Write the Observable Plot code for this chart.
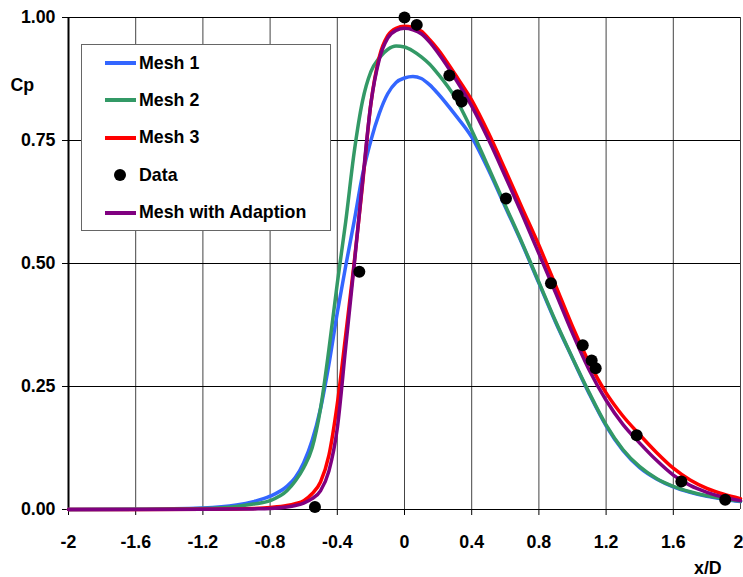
<!DOCTYPE html>
<html>
<head>
<meta charset="utf-8">
<script src="https://cdn.jsdelivr.net/npm/d3@7"></script>
<script src="https://cdn.jsdelivr.net/npm/@observablehq/plot@0.6"></script>
<style>
  body { margin: 0; background: #fff; }
  #wrap { position: relative; width: 743px; height: 577px; font-family: "Liberation Sans", Arial, sans-serif; font-weight: bold; }
  #legend { position: absolute; left: 81px; top: 44px; width: 248px; height: 185px; border: 1px solid #666; background: #fff; }
  .row { position: absolute; left: 0; height: 24px; display: flex; align-items: center; font-size: 17.8px; color: #000; white-space: nowrap; }
  .sw { position: relative; width: 31px; height: 24px; margin-left: 23px; margin-right: 3px; }
</style>
</head>
<body>
<div id="wrap"></div>
<script>
// ---- data ----
const xs = [-2, -1.6, -1.2, -1.0, -0.9, -0.8, -0.7, -0.65, -0.6, -0.55, -0.5, -0.45, -0.4, -0.35, -0.3, -0.25, -0.2, -0.15, -0.1, -0.05, 0, 0.05, 0.1, 0.15, 0.2, 0.3, 0.4, 0.5, 0.6, 0.7, 0.8, 0.9, 1.0, 1.1, 1.2, 1.3, 1.4, 1.5, 1.6, 1.7, 1.8, 1.9, 2.0];

const mesh1 = [0, 0.0005, 0.003, 0.009, 0.016, 0.027, 0.047, 0.065, 0.095, 0.14, 0.205, 0.295, 0.40, 0.495, 0.585, 0.68, 0.75, 0.805, 0.845, 0.868, 0.877, 0.88, 0.876, 0.863, 0.845, 0.803, 0.757, 0.69, 0.615, 0.54, 0.46, 0.38, 0.307, 0.235, 0.17, 0.12, 0.085, 0.062, 0.046, 0.035, 0.027, 0.021, 0.016];

const mesh2 = [0, 0.0005, 0.002, 0.006, 0.011, 0.018, 0.038, 0.058, 0.085, 0.125, 0.205, 0.325, 0.46, 0.585, 0.725, 0.83, 0.89, 0.918, 0.935, 0.942, 0.94, 0.932, 0.92, 0.905, 0.885, 0.838, 0.771, 0.695, 0.618, 0.542, 0.462, 0.382, 0.308, 0.237, 0.172, 0.122, 0.087, 0.063, 0.047, 0.036, 0.028, 0.022, 0.017];

const mesh3 = [0, 0, 0.0005, 0.001, 0.002, 0.004, 0.008, 0.012, 0.018, 0.032, 0.056, 0.11, 0.215, 0.355, 0.5, 0.66, 0.825, 0.92, 0.963, 0.978, 0.982, 0.98, 0.972, 0.955, 0.935, 0.885, 0.832, 0.765, 0.69, 0.613, 0.537, 0.455, 0.372, 0.298, 0.237, 0.19, 0.152, 0.116, 0.084, 0.06, 0.043, 0.031, 0.022];

const meshAdapt = [0, 0, 0.0003, 0.0008, 0.0012, 0.002, 0.005, 0.008, 0.013, 0.022, 0.038, 0.078, 0.165, 0.33, 0.495, 0.665, 0.825, 0.915, 0.958, 0.974, 0.978, 0.975, 0.967, 0.95, 0.928, 0.877, 0.82, 0.752, 0.677, 0.6, 0.52, 0.44, 0.358, 0.283, 0.222, 0.173, 0.135, 0.10, 0.07, 0.049, 0.035, 0.025, 0.018];

const dataX = [-0.533, -0.269, 0, 0.073, 0.267, 0.317, 0.340, 0.604, 0.872, 1.061, 1.114, 1.138, 1.382, 1.648, 1.909];
const dataY = [0.005, 0.483, 1.0, 0.985, 0.882, 0.842, 0.829, 0.632, 0.460, 0.334, 0.303, 0.287, 0.151, 0.057, 0.020];

const xTicks = [-2, -1.6, -1.2, -0.8, -0.4, 0, 0.4, 0.8, 1.2, 1.6, 2];
const yTicks = [0, 0.25, 0.5, 0.75, 1];

const seriesNames = ["Mesh 1", "Mesh 2", "Mesh 3", "Mesh with Adaption"];
const seriesColors = ["#3366FF", "#339966", "#FF0000", "#800080"];
const seriesValues = [mesh1, mesh2, mesh3, meshAdapt];

// ---- build tables ----
const lines = seriesValues.map((vals, i) => xs.map((x, j) => ({x, y: vals[j], s: seriesNames[i]})));
const points = dataX.map((x, i) => ({x, y: dataY[i]}));

const chart = Plot.plot({
  width: 743,
  height: 577,
  marginLeft: 68,
  marginRight: 3,
  marginTop: 17,
  marginBottom: 68,
  style: {fontFamily: "'Liberation Sans', Arial, sans-serif", fontSize: "17.8px", fontWeight: "bold", color: "#000", background: "#fff"},
  x: {domain: [-2, 2]},
  y: {domain: [0, 1]},
  marks: [
    Plot.gridX(xTicks, {stroke: "#444", strokeOpacity: 1, strokeWidth: 1}),
    Plot.gridY(yTicks, {stroke: "#000", strokeOpacity: 1, strokeWidth: 1}),
    Plot.ruleX([-2], {stroke: "#000", strokeWidth: 2}),
    Plot.ruleY([0], {stroke: "#000", strokeWidth: 1.2}),
    Plot.axisX(xTicks.filter(d => d < 2), {tickSize: 6, tickPadding: 20, tickFormat: d => String(d), label: null, stroke: "#000"}),
    Plot.axisX([2], {tickSize: 6, tickPadding: 20, tickFormat: d => String(d), label: null, stroke: "#000", textAnchor: "end", dx: 3}),
    Plot.axisY(yTicks, {tickSize: 6, tickPadding: 7, tickFormat: d3.format(".2f"), label: null, stroke: "#000"}),
    ...lines.map((L, i) => Plot.line(L, {x: "x", y: "y", stroke: seriesColors[i], strokeWidth: 3.5, curve: "monotone-x"})),
    Plot.dot(points, {x: "x", y: "y", r: 6, fill: "#000", stroke: "none"})
  ]
});

const svg = d3.select(chart);
svg.append("text").attr("x", 10.5).attr("y", 91).attr("text-anchor", "start").attr("font-size", "17.8px").attr("font-weight", "bold").attr("fill", "#000").text("Cp");
svg.append("text").attr("x", 694).attr("y", 574).attr("text-anchor", "start").attr("font-size", "17.8px").attr("font-weight", "bold").attr("fill", "#000").text("x/D");

const wrap = document.getElementById("wrap");
wrap.appendChild(chart);

// ---- legend ----
const legend = document.createElement("div");
legend.id = "legend";
const legendItems = [
  {name: "Mesh 1", kind: "line", color: seriesColors[0]},
  {name: "Mesh 2", kind: "line", color: seriesColors[1]},
  {name: "Mesh 3", kind: "line", color: seriesColors[2]},
  {name: "Data", kind: "dot", color: "#000"},
  {name: "Mesh with Adaption", kind: "line", color: seriesColors[3]}
];
legendItems.forEach((it, i) => {
  const row = document.createElement("div");
  row.className = "row";
  row.style.top = (18 + i * 37.4 - 12) + "px";
  const sw = document.createElement("div");
  sw.className = "sw";
  if (it.kind === "line") {
    sw.innerHTML = `<div style="position:absolute;left:0;top:10px;width:31px;height:4px;background:${it.color}"></div>`;
  } else {
    sw.innerHTML = `<div style="position:absolute;left:9px;top:6px;width:12px;height:12px;border-radius:6px;background:${it.color}"></div>`;
  }
  row.appendChild(sw);
  const t = document.createElement("span");
  t.textContent = it.name;
  row.appendChild(t);
  legend.appendChild(row);
});
wrap.appendChild(legend);
</script>
</body>
</html>
